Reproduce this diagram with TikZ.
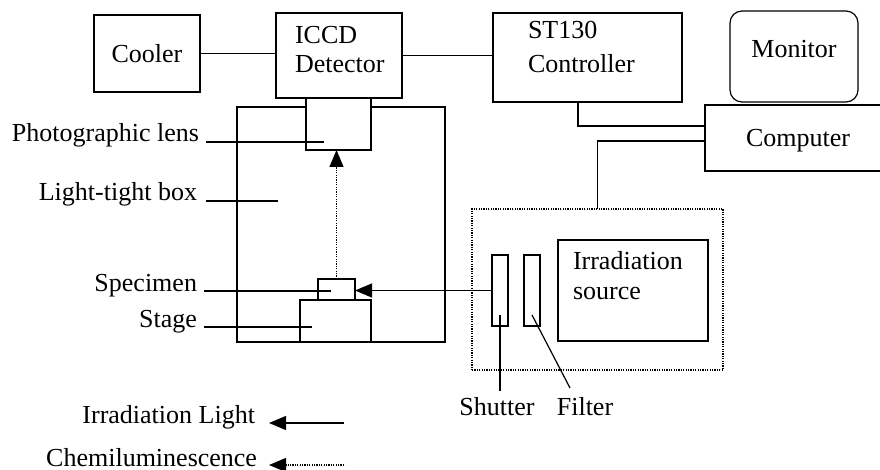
\documentclass[tikz,border=0pt]{standalone}
\usepackage{fontspec}
\setmainfont{Liberation Serif}
\usetikzlibrary{arrows.meta}
\begin{document}
\begin{tikzpicture}[x=1pt,y=-1pt,line width=1.2pt,
  box/.style={draw,line width=1.2pt,inner sep=0pt,outer sep=0pt,fill=white},
  lbl/.style={font=\fontsize{26}{31}\selectfont,inner sep=0pt,outer sep=0pt},
  arr/.style={-{Triangle[length=17pt,width=14pt]}},
  dots/.style={dash pattern=on 1.2pt off 1.2pt}]
\useasboundingbox (0,0) rectangle (880,470);
% top row
\node[box,minimum width=106pt,minimum height=77pt] (cooler) at (147,53.5) {};
\node[lbl] (coolert) at (cooler.center) {Cooler};
\node[box,minimum width=126pt,minimum height=85pt] (iccd) at (339,55.5) {};
\node[lbl,font=\fontsize{26}{29}\selectfont,anchor=base west,align=left] (iccdt) at (295,73) {ICCD\\Detector};
\node[box,minimum width=189pt,minimum height=89pt] (st) at (587.5,57.5) {};
\node[lbl,font=\fontsize{26}{34}\selectfont,anchor=base west,align=left] (stt) at (528,73) {ST130\\Controller};
\node[box,rounded corners=12pt,minimum width=128pt,minimum height=91pt] (mon) at (794,56.5) {};
\node[lbl,anchor=base] (mont) at (794,58) {Monitor};
\node[box,minimum width=180pt,minimum height=66pt] (comp) at (795,138) {};
\node[lbl,anchor=base] (compt) at (798,147) {Computer};
% light-tight box
\node[box,fill=none,minimum width=208pt,minimum height=235pt] (ltb) at (341,224.5) {};
\node[box,minimum width=65pt,minimum height=52pt] (lens) at (338.5,124) {};
\node[box,minimum width=71pt,minimum height=42pt] (stage) at (335.5,321) {};
\node[box,minimum width=37pt,minimum height=21pt] (spec) at (336.5,289.5) {};
% irradiation unit
\node[box,fill=none,dots,minimum width=251pt,minimum height=161pt] (unit) at (597.5,289.5) {};
\node[box,minimum width=16pt,minimum height=71pt] (shut) at (500,290.5) {};
\node[box,minimum width=16pt,minimum height=71pt] (filt) at (532,290.5) {};
\node[box,minimum width=150pt,minimum height=101pt] (src) at (633,290.5) {};
\node[lbl,font=\fontsize{26}{30}\selectfont,anchor=base west,align=left] (srct) at (573,299) {Irradiation\\source};
% connectors
\draw (cooler.east) -- (cooler.east -| iccd.west);
\draw (iccd.east) -- (iccd.east -| st.west);
\draw ([xshift=-9.5pt]st.south) |- ([yshift=12pt]comp.west);
\draw ([yshift=-3pt]comp.west) -| (unit.north);
\draw[arr] (shut.west) -- (shut.west -| spec.east);
\draw[arr,dots] (spec.north) -- (spec.north |- lens.south);
% labels with leaders
\node[lbl,anchor=base east] (lensl) at (199,142) {Photographic lens};
\coordinate (lensp) at (324,142);
\draw ([xshift=7pt]lensl.base east) -- (lensp);
\node[lbl,anchor=base east] (ltbl) at (197,201) {Light-tight box};
\coordinate (ltbp) at (278,201);
\draw ([xshift=9pt]ltbl.base east) -- (ltbp);
\node[lbl,anchor=base east] (specl) at (197,291) {Specimen};
\coordinate (specp) at (331,291);
\draw ([xshift=7pt]specl.base east) -- (specp);
\node[lbl,anchor=base east] (stagel) at (197,327) {Stage};
\coordinate (stagep) at (312,327);
\draw ([xshift=7pt]stagel.base east) -- (stagep);
\node[lbl,anchor=base] (shutl) at (497,415) {Shutter};
\coordinate (shutp) at (500,315);
\draw (shutp) -- ([yshift=24pt]shutl.base -| shutp);
\node[lbl,anchor=base] (filtl) at (585,415) {Filter};
\coordinate (filtp) at (532,315);
\coordinate (filte) at (570,388);
\draw (filtp) -- (filte);
% legend
\node[lbl,anchor=base east] (leg1) at (255,423) {Irradiation Light};
\coordinate (leg1e) at (344,423);
\draw[arr] (leg1e) -- ([xshift=14pt]leg1.base east);
\node[lbl,anchor=base east] (leg2) at (257,466) {Chemiluminescence};
\coordinate (leg2e) at (344,465);
\draw[arr,dots] (leg2e) -- ([xshift=12pt,yshift=1pt]leg2.base east);
\end{tikzpicture}
\end{document}
